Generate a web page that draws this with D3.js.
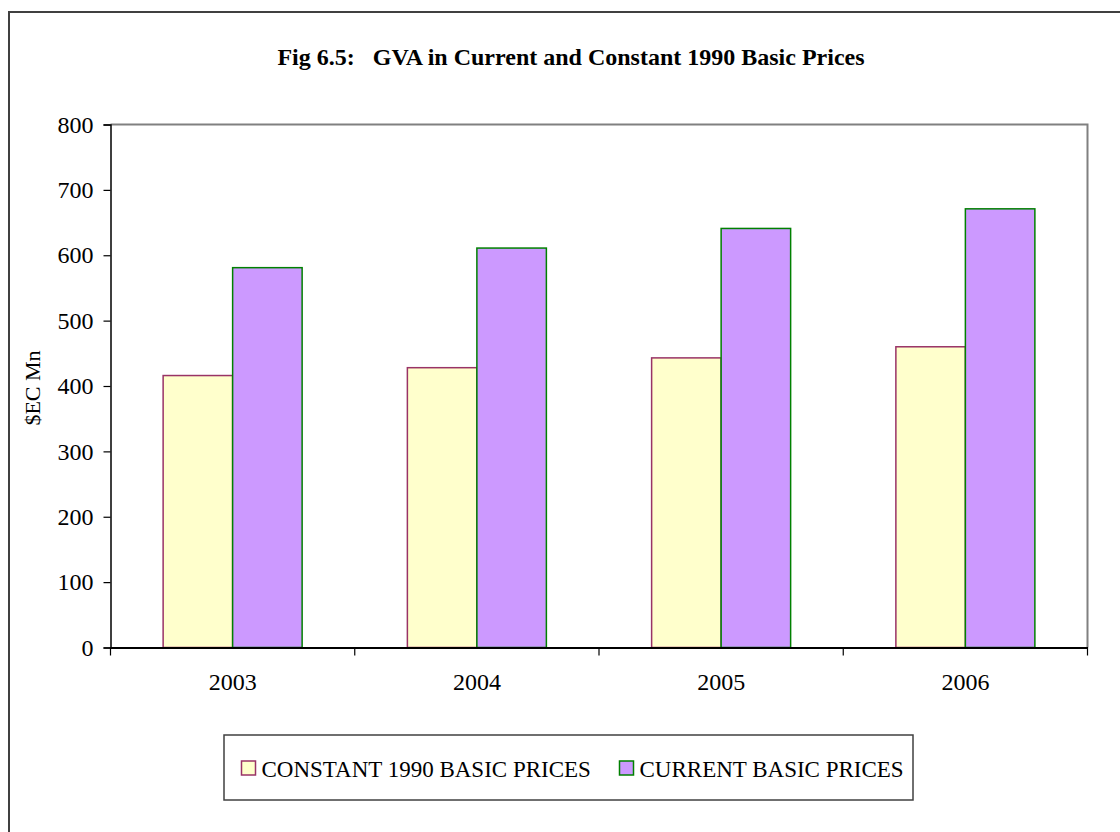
<!DOCTYPE html>
<html>
<head>
<meta charset="utf-8">
<script src="https://cdn.jsdelivr.net/npm/d3@7"></script>
<style>
  html, body { margin: 0; padding: 0; background: #fff; }
  svg { display: block; }
  svg text { font-family: "Liberation Serif", "DejaVu Serif", serif !important; fill: #000; }
</style>
</head>
<body>
<svg id="chart" width="1120" height="832"></svg>
<script>
const title = "Fig 6.5:\u00a0\u00a0\u00a0GVA in Current and Constant 1990 Basic Prices";
const yAxisLabel = "$EC Mn";
const categories = ["2003", "2004", "2005", "2006"];
const seriesNames = ["CONSTANT 1990 BASIC PRICES", "CURRENT BASIC PRICES"];
const constantPrices = [416, 428, 443, 460];
const currentPrices = [581, 611, 641, 671];
const yTicks = [0, 100, 200, 300, 400, 500, 600, 700, 800];

const fills = ["#FFFFCC", "#CC99FF"];
const strokes = ["#993366", "#008000"];

const svg = d3.select("#chart");
const m = { left: 110.5, right: 1087.5, top: 124.5, bottom: 647.5 };

// outer frame
svg.append("rect")
  .attr("x", 9).attr("y", 12).attr("width", 1200).attr("height", 900)
  .attr("fill", "#fff").attr("stroke", "#404040").attr("stroke-width", 2);

// title
svg.append("text")
  .attr("x", 571).attr("y", 65)
  .attr("text-anchor", "middle")
  .attr("font-weight", "bold")
  .attr("font-size", 24)
  .text(title);

const x0 = d3.scaleBand().domain(categories).range([m.left, m.right]).paddingInner(0).paddingOuter(0);
const bandW = x0.bandwidth();
const barW = 69.5;
const x1 = d3.scaleBand().domain(seriesNames).range([0, barW * 2]);
const y = d3.scaleLinear().domain([0, 800]).range([m.bottom, m.top]);

// plot border (top/right gray)
svg.append("path")
  .attr("d", `M${m.left},${m.top}H${m.right}V${m.bottom}`)
  .attr("fill", "none").attr("stroke", "#808080").attr("stroke-width", 2);

const data = categories.map((c, i) => ({ cat: c, vals: [constantPrices[i], currentPrices[i]] }));

const groups = svg.append("g").selectAll("g").data(data).join("g")
  .attr("transform", d => `translate(${x0(d.cat) + (bandW - barW * 2) / 2},0)`);

groups.selectAll("rect").data(d => d.vals.map((v, j) => ({ v, j })))
  .join("rect")
  .attr("x", d => x1(seriesNames[d.j]))
  .attr("y", d => y(d.v))
  .attr("width", barW)
  .attr("height", d => y(0) - y(d.v))
  .attr("fill", d => fills[d.j])
  .attr("stroke", d => strokes[d.j])
  .attr("stroke-width", 1.5);

// y axis
const yAxis = d3.axisLeft(y).tickValues(yTicks).tickSize(7).tickPadding(10).tickFormat(d3.format("d"));
const gy = svg.append("g").attr("transform", `translate(${m.left},0)`).call(yAxis)
  .attr("font-family", null).attr("font-size", null);
gy.select(".domain").attr("stroke", "#000").attr("stroke-width", 1.5);
gy.selectAll(".tick line").attr("stroke", "#000").attr("stroke-width", 1.2);
gy.selectAll("text").attr("font-size", 24);

// x axis
const xAxis = d3.axisBottom(x0).tickSize(0).tickPadding(25);
const gx = svg.append("g").attr("transform", `translate(0,${m.bottom})`).call(xAxis)
  .attr("font-family", null).attr("font-size", null);
gx.select(".domain").attr("stroke", "#000").attr("stroke-width", 2);
gx.selectAll("text").attr("font-size", 24);
// category boundary ticks
const bounds = categories.map(c => x0(c)).concat([x0(categories[categories.length - 1]) + bandW]);
svg.append("g").selectAll("line").data(bounds).join("line")
  .attr("x1", d => d).attr("x2", d => d)
  .attr("y1", m.bottom).attr("y2", m.bottom + 8)
  .attr("stroke", "#000").attr("stroke-width", 1.2);

// y axis label
svg.append("text")
  .attr("transform", `translate(40,388) rotate(-90)`)
  .attr("text-anchor", "middle")
  .attr("font-size", 22)
  .text(yAxisLabel);

// legend
svg.append("rect")
  .attr("x", 224).attr("y", 735).attr("width", 689).attr("height", 65)
  .attr("fill", "#fff").attr("stroke", "#404040").attr("stroke-width", 1.5);
const legendX = [241.5, 619.5];
const lg = svg.append("g").selectAll("g").data(seriesNames).join("g")
  .attr("transform", (d, i) => `translate(${legendX[i]},761)`);
lg.append("rect").attr("width", 14).attr("height", 14)
  .attr("fill", (d, i) => fills[i]).attr("stroke", (d, i) => strokes[i]).attr("stroke-width", 1.5);
lg.append("text").attr("x", 20).attr("y", 15.5)
  .attr("font-size", 23)
  .text(d => d);
</script>
</body>
</html>
